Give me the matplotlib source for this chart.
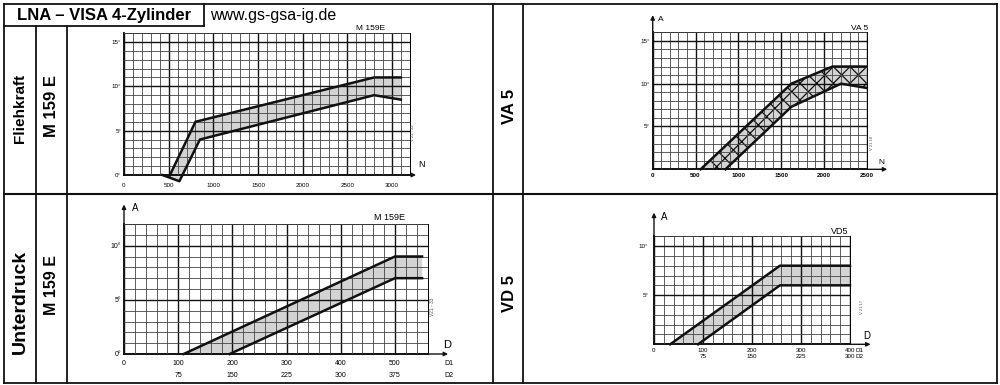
import numpy as np
import matplotlib
matplotlib.use('Agg')
import matplotlib.pyplot as plt
from matplotlib.lines import Line2D

plt.rcParams['font.family'] = ['Liberation Sans', 'DejaVu Sans']
plt.rcParams['hatch.linewidth'] = 0.9

# Fliehkraft M 159 E : n (1/min) -> A (deg)
fk_up_n = [510, 800, 2800, 3100]
fk_up_a = [-0.1, 6, 11, 11]
fk_lo_n = [430, 620, 850, 2800, 3100]
fk_lo_a = [0, -0.7, 4, 9, 8.5]
fk_ticks = [0, 500, 1000, 1500, 2000, 2500, 3000]

# VA 5
va_up_n = [560, 1620, 2100, 2500]
va_up_a = [0, 10, 12, 12]
va_lo_n = [850, 1620, 2200, 2500]
va_lo_a = [0, 7.3, 10, 9.5]
va_ticks = [0, 500, 1000, 1500, 2000, 2500]

# Unterdruck M 159 E : D1 (D2) -> A (deg)
ud_up_d = [110, 500, 550]
ud_up_a = [0, 9, 9]
ud_lo_d = [195, 500, 550]
ud_lo_a = [0, 7, 7]
ud_d1 = [0, 100, 200, 300, 400, 500]
ud_d2 = ['', '75', '150', '225', '300', '375']

# VD 5
vd_up_d = [33, 257, 400]
vd_up_a = [0, 8, 8]
vd_lo_d = [90, 257, 400]
vd_lo_a = [0, 6, 6]
vd_d1 = [0, 100, 200, 300, 400]
vd_d2 = ['', '75', '150', '225', '300']

W, H = 1000, 385
fig = plt.figure(figsize=(W / 100, H / 100), dpi=100)
fig.patch.set_facecolor('white')


def px_axes(x0, x1, yt, yb):
    return fig.add_axes([x0 / W, 1 - yb / H, (x1 - x0) / W, (yb - yt) / H])


def line(xs, ys, lw=1.3):
    fig.add_artist(Line2D(np.array(xs) / W, 1 - np.array(ys) / H, lw=lw, color='#111'))


def ftext(x, y, s, **kw):
    fig.text(x / W, 1 - y / H, s, **kw)


def setup(ax, xmax, ymax, xstep, xmajor, ymajor, ylabels, fs):
    ax.set_xlim(0, xmax)
    ax.set_ylim(0, ymax)
    ax.set_xticks(np.arange(0, xmax + 0.1, xstep), minor=True)
    ax.set_yticks(np.arange(0, ymax + 0.1, 1), minor=True)
    ax.set_yticks(ymajor)
    ax.set_yticklabels(ylabels)
    ax.grid(which='minor', color='#444', lw=0.6)
    ax.grid(which='major', color='#111', lw=1.0)
    ax.set_axisbelow(False)
    ax.tick_params(which='both', length=0, labelsize=fs, pad=2)
    for s in ['top', 'right']:
        ax.spines[s].set_linewidth(0.7)
    for s in ['left', 'bottom']:
        ax.spines[s].set_linewidth(1.3)


def band(ax, un, ua, ln, la, hatch=None):
    xs = list(un) + list(ln[::-1])
    ys = list(ua) + list(la[::-1])
    ax.fill(xs, ys, facecolor='#d3d3d3', edgecolor='#111' if hatch else 'none',
            lw=0, hatch=hatch, zorder=1, clip_on=False)
    for x, y in [(un, ua), (ln, la)]:
        ax.plot(x, y, color='#111', lw=1.8, zorder=3, clip_on=False)


def arrow(ax, tip, base):
    ax.annotate('', xy=tip, xytext=base, annotation_clip=False,
                arrowprops=dict(arrowstyle='-|>', color='#111', lw=1.0,
                                mutation_scale=6, shrinkA=0, shrinkB=0))


# ---- Fliehkraft M 159 E
ax1 = px_axes(124, 409.8, 33.1, 175)
setup(ax1, 3200, 16, 100, fk_ticks, [0, 5, 10, 15], ['0°', '5°', '10°', '15°'], 4.5)
ax1.set_xticks(fk_ticks)
ax1.set_xticklabels([str(t) for t in fk_ticks])
ax1.tick_params(axis='x', pad=6)
band(ax1, fk_up_n, fk_up_a, fk_lo_n, fk_lo_a)
arrow(ax1, (3270, 0), (3200, 0))
ax1.text(3290, 0.9, 'N', fontsize=6.5)

# ---- VA 5
ax2 = px_axes(652.7, 866.7, 32.3, 169.3)
setup(ax2, 2500, 16, 100, va_ticks, [0, 5, 10, 15], ['', '5°', '10°', '15°'], 4.5)
ax2.set_xticks(va_ticks)
ax2.set_xticklabels([str(t) for t in va_ticks], weight='bold')
ax2.tick_params(axis='x', pad=3)
band(ax2, va_up_n, va_up_a, va_lo_n, va_lo_a, hatch='xx')
arrow(ax2, (2740, 0), (2500, 0))
arrow(ax2, (0, 18), (0, 16))
ax2.text(2640, 0.6, 'N', fontsize=6)
ax2.text(60, 17.3, 'A', fontsize=6)

# ---- Unterdruck M 159 E
ax3 = px_axes(124, 427.5, 224, 354)
setup(ax3, 560, 12, 20, ud_d1, [0, 5, 10], ['0°', '5°', '10°'], 5)
ax3.set_xticks(ud_d1)
ax3.set_xticklabels([f'{a}\n{b}' for a, b in zip(ud_d1, ud_d2)], linespacing=2.1)
ax3.tick_params(axis='x', pad=4)
band(ax3, ud_up_d, ud_up_a, ud_lo_d, ud_lo_a)
arrow(ax3, (598, 0), (560, 0))
arrow(ax3, (0, 13.8), (0, 12))
ax3.text(588, 0.6, 'D', fontsize=8)
ax3.text(14, 13.2, 'A', fontsize=7)
ax3.annotate('D1\nD2', xy=(591, 0), xytext=(0, -4), textcoords='offset points',
             ha='left', va='top', fontsize=5, linespacing=2.1, annotation_clip=False)

# ---- VD 5
ax4 = px_axes(654, 850, 236.2, 344.3)
setup(ax4, 400, 11, 20, vd_d1, [5, 10], ['5°', '10°'], 4.5)
ax4.set_xticks(vd_d1)
ax4.set_xticklabels([f'{a}\n{b}' for a, b in zip(vd_d1, vd_d2)], linespacing=1.2)
ax4.tick_params(axis='x', pad=3)
ax4.tick_params(axis='y', pad=4)
band(ax4, vd_up_d, vd_up_a, vd_lo_d, vd_lo_a)
arrow(ax4, (442, 0), (400, 0))
arrow(ax4, (0, 13.4), (0, 11))
ax4.text(428, 0.5, 'D', fontsize=7)
ax4.text(14, 12.6, 'A', fontsize=7)
ax4.annotate('D1\nD2', xy=(411, 0), xytext=(0, -3), textcoords='offset points',
             ha='left', va='top', fontsize=4.5, linespacing=1.2, annotation_clip=False)

# chart names and drawing numbers
ftext(371, 28, 'M 159E', fontsize=6, ha='center', va='center')
ftext(860, 28, 'VA 5', fontsize=6, ha='center', va='center')
ftext(389, 218, 'M 159E', fontsize=6.5, ha='center', va='center')
ftext(840, 231, 'VD5', fontsize=6.5, ha='center', va='center')
ftext(413, 133, 'V 21 - 32', fontsize=3, rotation=90, ha='center', va='center', color='#555')
ftext(872, 143, 'V 21 18', fontsize=3, rotation=90, ha='center', va='center', color='#555')
ftext(432, 307, 'V21 - 33', fontsize=3.5, rotation=90, ha='center', va='center', color='#555')
ftext(862, 307, 'V 21.17', fontsize=3, rotation=90, ha='center', va='center', color='#555')

# ---- table frame
line([4, 997], [4, 4])
line([4, 997], [383, 383])
line([4, 4], [4, 383])
line([997, 997], [4, 383])
line([4, 997], [194, 194], lw=1.5)
line([493, 493], [4, 383])
line([523, 523], [4, 383])
line([36, 36], [26, 383])
line([67, 67], [26, 383])
line([4, 204], [26, 26])
line([204, 204], [4, 26])

ftext(104, 15.5, 'LNA – VISA 4-Zylinder', fontsize=12, weight='bold', ha='center', va='center')
ftext(210, 15.5, 'www.gs-gsa-ig.de', fontsize=11.5, ha='left', va='center')
ftext(20, 108, 'Fliehkraft', fontsize=11, weight='bold', rotation=90, ha='center', va='center')
ftext(52, 106, 'M 159 E', fontsize=12, weight='bold', rotation=90, ha='center', va='center')
ftext(20, 302, 'Unterdruck', fontsize=14, weight='bold', rotation=90, ha='center', va='center')
ftext(52, 285, 'M 159 E', fontsize=11.5, weight='bold', rotation=90, ha='center', va='center')
ftext(509, 106, 'VA 5', fontsize=12, weight='bold', rotation=90, ha='center', va='center')
ftext(509, 293, 'VD 5', fontsize=12, weight='bold', rotation=90, ha='center', va='center')

fig.savefig('out.png', dpi=100, facecolor='white')
